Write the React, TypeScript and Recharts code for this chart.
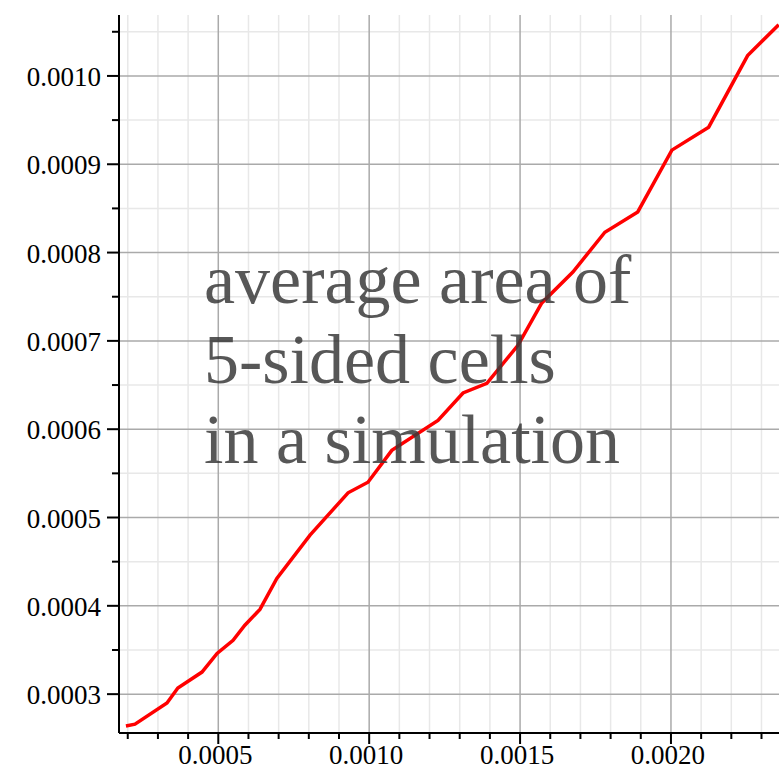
import React from 'react';
import { LineChart, Line, XAxis, YAxis, ReferenceLine } from 'recharts';

// simulation output: area vs. x
const xValues = [
  0.000194, 0.000224, 0.00033, 0.000366, 0.000446, 0.000496, 0.000549, 0.000588,
  0.000638, 0.000694, 0.000804, 0.00093, 0.000996, 0.001075, 0.001228, 0.001311,
  0.00139, 0.001493, 0.001572, 0.001675, 0.001781, 0.00189, 0.002003, 0.002125,
  0.002254, 0.002357,
];
const areaValues = [
  0.000264, 0.000266, 0.00029, 0.000307, 0.000325, 0.000346, 0.000361, 0.000378,
  0.000396, 0.000431, 0.00048, 0.000528, 0.00054, 0.000576, 0.00061, 0.000641,
  0.000652, 0.000695, 0.000743, 0.000778, 0.000823, 0.000846, 0.000916, 0.000942,
  0.001023, 0.001058,
];

const xMajor = [0.0005, 0.001, 0.0015, 0.002];
const xMinor = [0.0002, 0.0003, 0.0004, 0.0006, 0.0007, 0.0008, 0.0009, 0.0011, 0.0012,
  0.0013, 0.0014, 0.0016, 0.0017, 0.0018, 0.0019, 0.0021, 0.0022, 0.0023];
const yMajor = [0.0003, 0.0004, 0.0005, 0.0006, 0.0007, 0.0008, 0.0009, 0.001];
const yMinor = [0.00035, 0.00045, 0.00055, 0.00065, 0.00075, 0.00085, 0.00095, 0.00105];

const titleLines = ['average area of', '5-sided cells', 'in a simulation'];

const data = xValues.map((x, i) => ({ x, y: areaValues[i] }));

const isMajor = (list: number[], v: number) => list.some((m) => Math.abs(m - v) < 1e-9);
const FONT = "'Liberation Serif', 'Times New Roman', serif";

const XTick = (props: any) => {
  const { x, y, payload } = props;
  const major = isMajor(xMajor, payload.value);
  return (
    <g>
      <line x1={x} x2={x} y1={y} y2={y + (major ? 11 : 6)} stroke="#000" strokeWidth={2} />
      {major && (
        <text x={x - 3} y={y + 31} textAnchor="middle" fontFamily={FONT} fontSize={27} fill="#000">
          {payload.value.toFixed(4)}
        </text>
      )}
    </g>
  );
};

const YTick = (props: any) => {
  const { x, y, payload } = props;
  const major = isMajor(yMajor, payload.value);
  return (
    <g>
      <line x1={x - (major ? 12 : 7)} x2={x} y1={y} y2={y} stroke="#000" strokeWidth={2} />
      {major && (
        <text x={x - 18} y={y + 10} textAnchor="end" fontFamily={FONT} fontSize={27} fill="#000">
          {payload.value.toFixed(4)}
        </text>
      )}
    </g>
  );
};

const App: React.FC = () => {
  return (
    <div style={{ position: 'absolute', left: 0, top: 0, width: 779, height: 768, background: '#fff' }}>
      <LineChart width={779} height={768} data={data} margin={{ top: 15, right: 0, left: 0, bottom: 0 }}>
        <XAxis
          dataKey="x"
          type="number"
          domain={[0.000171, 0.002358]}
          allowDataOverflow
          ticks={[...xMinor, ...xMajor].sort((a, b) => a - b)}
          tick={<XTick />}
          tickLine={false}
          tickSize={0}
          tickMargin={0}
          interval={0}
          height={35}
          axisLine={{ stroke: '#000', strokeWidth: 2 }}
        />
        <YAxis
          type="number"
          domain={[0.000256, 0.001069]}
          allowDataOverflow
          ticks={[...yMinor, ...yMajor].sort((a, b) => a - b)}
          tick={<YTick />}
          tickLine={false}
          tickSize={0}
          tickMargin={0}
          interval={0}
          width={119}
          axisLine={{ stroke: '#000', strokeWidth: 2 }}
        />
        {xMinor.map((v) => (
          <ReferenceLine key={'xm' + v} x={v} stroke="#e8e8e8" strokeWidth={1.5} />
        ))}
        {yMinor.map((v) => (
          <ReferenceLine key={'ym' + v} y={v} stroke="#e8e8e8" strokeWidth={1.5} />
        ))}
        {xMajor.map((v) => (
          <ReferenceLine key={'xM' + v} x={v} stroke="#aaaaaa" strokeWidth={1.5} />
        ))}
        {yMajor.map((v) => (
          <ReferenceLine key={'yM' + v} y={v} stroke="#aaaaaa" strokeWidth={1.5} />
        ))}
        <Line
          type="linear"
          dataKey="y"
          stroke="#ff0000"
          strokeWidth={3.5}
          dot={false}
          isAnimationActive={false}
        />
      </LineChart>
      <svg
        width={779}
        height={768}
        style={{ position: 'absolute', left: 0, top: 0, pointerEvents: 'none' }}
      >
        {titleLines.map((t, i) => (
          <text
            key={t}
            x={204}
            y={303 + i * 80}
            fontFamily={FONT}
            fontSize={70}
            fill="#3a3a3a"
            fillOpacity={0.85}
          >
            {t}
          </text>
        ))}
      </svg>
    </div>
  );
};

export default App;
